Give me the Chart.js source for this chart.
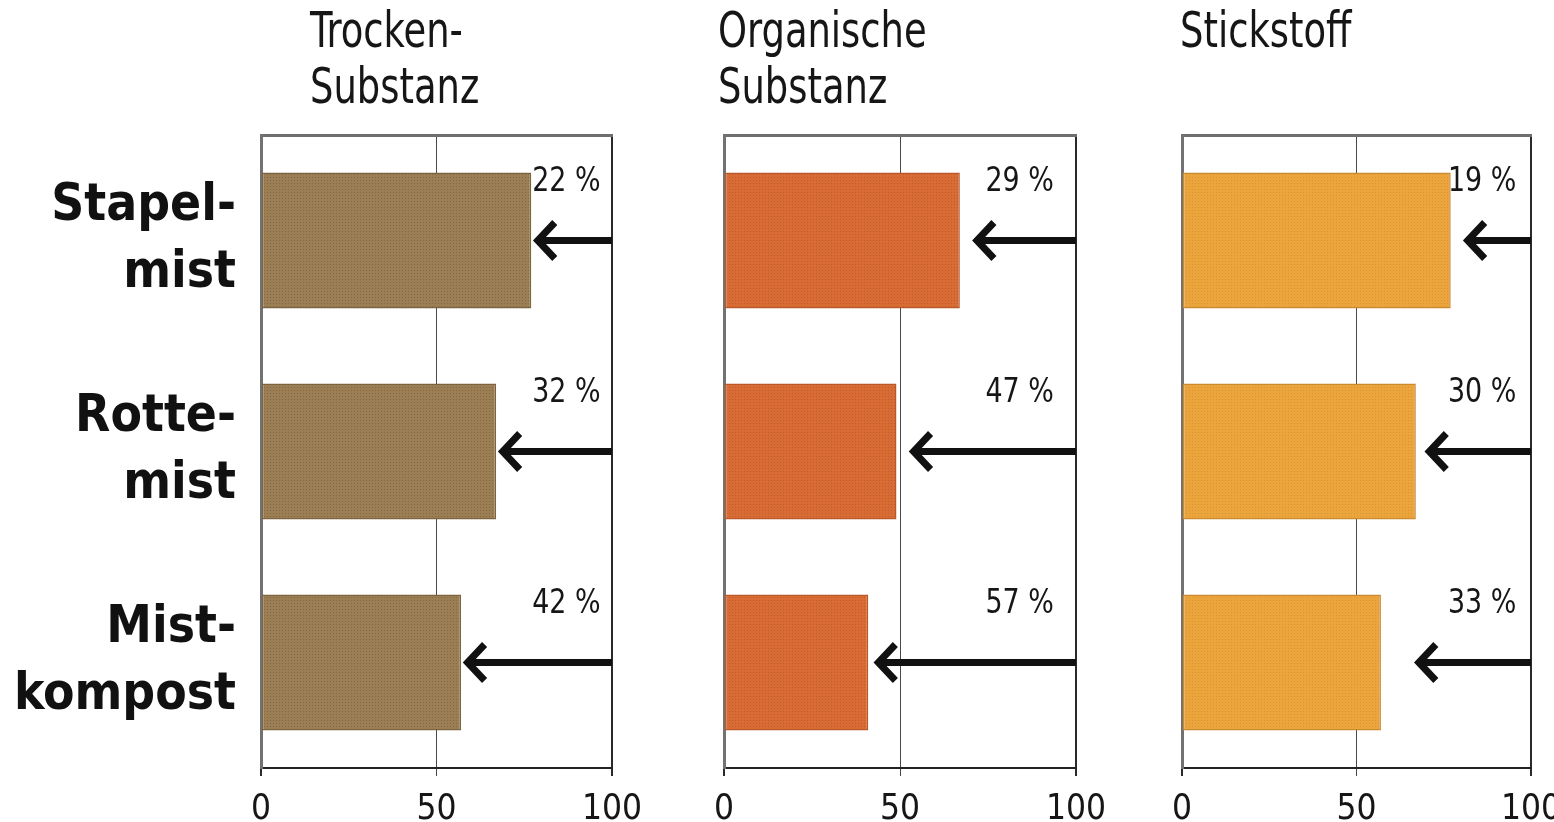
<!DOCTYPE html>
<html>
<head>
<meta charset="utf-8">
<script src="https://cdn.jsdelivr.net/npm/chart.js@4.4.1/dist/chart.umd.min.js"></script>
<style>
  html, body { margin: 0; padding: 0; background: #fff; }
  #wrap { position: relative; width: 1554px; height: 822px; overflow: hidden; }
  .panel { position: absolute; top: 0; height: 822px; }
</style>
</head>
<body>
<div id="wrap">
  <div class="panel" style="left:0;width:690px"><canvas id="c1"></canvas></div>
  <div class="panel" style="left:690px;width:460px"><canvas id="c2"></canvas></div>
  <div class="panel" style="left:1150px;width:404px"><canvas id="c3"></canvas></div>
</div>
<script>
// Mist types (rows)
const rowLabels = [['Stapel-', 'mist'], ['Rotte-', 'mist'], ['Mist-', 'kompost']];

// Panel headings
const titleTrocken = ['Trocken-', 'Substanz'];
const titleOrganisch = ['Organische', 'Substanz'];
const titleStickstoff = ['Stickstoff'];

// Remaining share per mist type (bar length, 0-100)
const trockenRest = [77, 67, 57];
const organischRest = [67, 49, 41];
const stickstoffRest = [77, 67, 57];

// Loss in percent (arrow from 100 back by this amount, and its label)
const trockenLoss = [22, 32, 42];
const organischLoss = [29, 47, 57];
const stickstoffLoss = [19, 30, 33];

// Axis ticks
const xTicks = [0, 50, 100];

const FONT = "'DejaVu Sans Condensed', 'DejaVu Sans', sans-serif";
Chart.defaults.font.family = FONT;
Chart.defaults.color = '#161616';

function texture(base, dot) {
  const c = document.createElement('canvas');
  c.width = 3; c.height = 3;
  const g = c.getContext('2d');
  g.fillStyle = base; g.fillRect(0, 0, 3, 3);
  g.fillStyle = dot; g.fillRect(0, 0, 1, 1);
  return g.createPattern(c, 'repeat');
}

// Draw text narrowed horizontally around its anchor
function narrowText(ctx, text, x, y, squeeze) {
  ctx.save();
  ctx.translate(x, y);
  ctx.scale(squeeze, 1);
  ctx.fillText(text, 0, 0);
  ctx.restore();
}

// Loss arrows and their percentage labels
const lossArrows = {
  id: 'lossArrows',
  afterDatasetsDraw(chart, args, opts) {
    const { ctx } = chart;
    const xs = chart.scales.x, ys = chart.scales.y;
    ctx.save();
    opts.losses.forEach((loss, i) => {
      const y = ys.getPixelForValue(i);
      const x0 = xs.getPixelForValue(100);
      const x1 = xs.getPixelForValue(100 - loss);
      ctx.strokeStyle = '#111';
      ctx.lineWidth = 7;
      ctx.lineCap = 'butt';
      ctx.lineJoin = 'miter';
      ctx.beginPath();
      ctx.moveTo(x0, y);
      ctx.lineTo(x1 + 3, y);
      ctx.stroke();
      ctx.beginPath();
      ctx.moveTo(x1 + 20, y - 18);
      ctx.lineTo(x1 + 3, y);
      ctx.lineTo(x1 + 20, y + 18);
      ctx.stroke();

      ctx.fillStyle = '#161616';
      ctx.font = '34px ' + FONT;
      ctx.textAlign = 'center';
      ctx.textBaseline = 'middle';
      narrowText(ctx, loss + ' %', xs.getPixelForValue(opts.labelAt), y - 58, 0.88);
    });
    ctx.restore();
  }
};

// Panel heading drawn above the plot frame
const panelHeading = {
  id: 'panelHeading',
  afterDraw(chart, args, opts) {
    const { ctx, chartArea } = chart;
    ctx.save();
    ctx.fillStyle = '#161616';
    ctx.font = '50px ' + FONT;
    ctx.textAlign = 'left';
    ctx.textBaseline = 'alphabetic';
    opts.lines.forEach((line, k) => {
      narrowText(ctx, line, chartArea.left + opts.dx, 47 + k * 56, 0.82);
    });
    ctx.restore();
  }
};

function makePanel(id, rest, losses, heading, color, opt) {
  return new Chart(document.getElementById(id), {
    type: 'bar',
    data: {
      labels: rowLabels,
      datasets: [{
        data: rest,
        backgroundColor: texture(color.base, color.dot),
        borderColor: color.edge,
        borderWidth: 1.5,
        borderSkipped: false,
        barPercentage: 0.645,
        categoryPercentage: 1.0
      }]
    },
    options: {
      indexAxis: 'y',
      responsive: true,
      maintainAspectRatio: false,
      animation: false,
      events: [],
      layout: { padding: { top: 135, right: opt.padRight, left: 0, bottom: 0 } },
      plugins: {
        legend: { display: false },
        tooltip: { enabled: false },
        title: { display: false },
        lossArrows: { losses: losses, labelAt: opt.labelAt },
        panelHeading: { lines: heading, dx: opt.titleDx }
      },
      scales: {
        x: {
          type: 'linear',
          position: 'bottom',
          min: 0, max: 100,
          afterBuildTicks(s) { s.ticks = xTicks.map(v => ({ value: v })); },
          afterFit(s) { s.height = 54; s.paddingLeft = 0; s.paddingRight = 0; },
          ticks: { font: { size: 35 }, color: '#161616', padding: 13, maxRotation: 0, autoSkip: false },
          grid: {
            drawOnChartArea: true,
            drawTicks: true,
            tickLength: 8,
            color: c => (c.tick && c.tick.value === 50) ? '#4a4a4a' : '#2a2a2a',
            lineWidth: c => (c.tick && c.tick.value === 50) ? 1 : 2
          },
          border: { display: true, color: '#222', width: 2 }
        },
        xTop: {
          type: 'linear',
          position: 'top',
          min: 0, max: 100,
          afterFit(s) { s.height = 0; s.paddingLeft = 0; s.paddingRight = 0; },
          ticks: { display: false },
          grid: { display: false },
          border: { display: true, color: '#6e6e6e', width: 3 }
        },
        y: {
          type: 'category',
          position: 'left',
          offset: true,
          afterFit(s) { s.width = opt.yWidth; s.paddingTop = 0; s.paddingBottom = 0; },
          ticks: {
            display: opt.showRows,
            font: { size: 51, weight: 'bold', lineHeight: 1.32 },
            color: '#111',
            padding: 25
          },
          grid: { display: false, drawTicks: false },
          border: { display: true, color: '#727272', width: 3 }
        }
      }
    },
    plugins: [lossArrows, panelHeading]
  });
}

makePanel('c1', trockenRest, trockenLoss, titleTrocken,
  { base: '#9c7e54', dot: 'rgba(70,50,25,0.28)', edge: '#7d6440' },
  { padRight: 78, yWidth: 261, showRows: true, labelAt: 87, titleDx: 49 });

makePanel('c2', organischRest, organischLoss, titleOrganisch,
  { base: '#d96c34', dot: 'rgba(110,40,10,0.25)', edge: '#b9592a' },
  { padRight: 74, yWidth: 34, showRows: false, labelAt: 84, titleDx: -6 });

makePanel('c3', stickstoffRest, stickstoffLoss, titleStickstoff,
  { base: '#eca43c', dot: 'rgba(140,90,20,0.22)', edge: '#c98a30' },
  { padRight: 23, yWidth: 32, showRows: false, labelAt: 86, titleDx: -2 });
</script>
</body>
</html>
